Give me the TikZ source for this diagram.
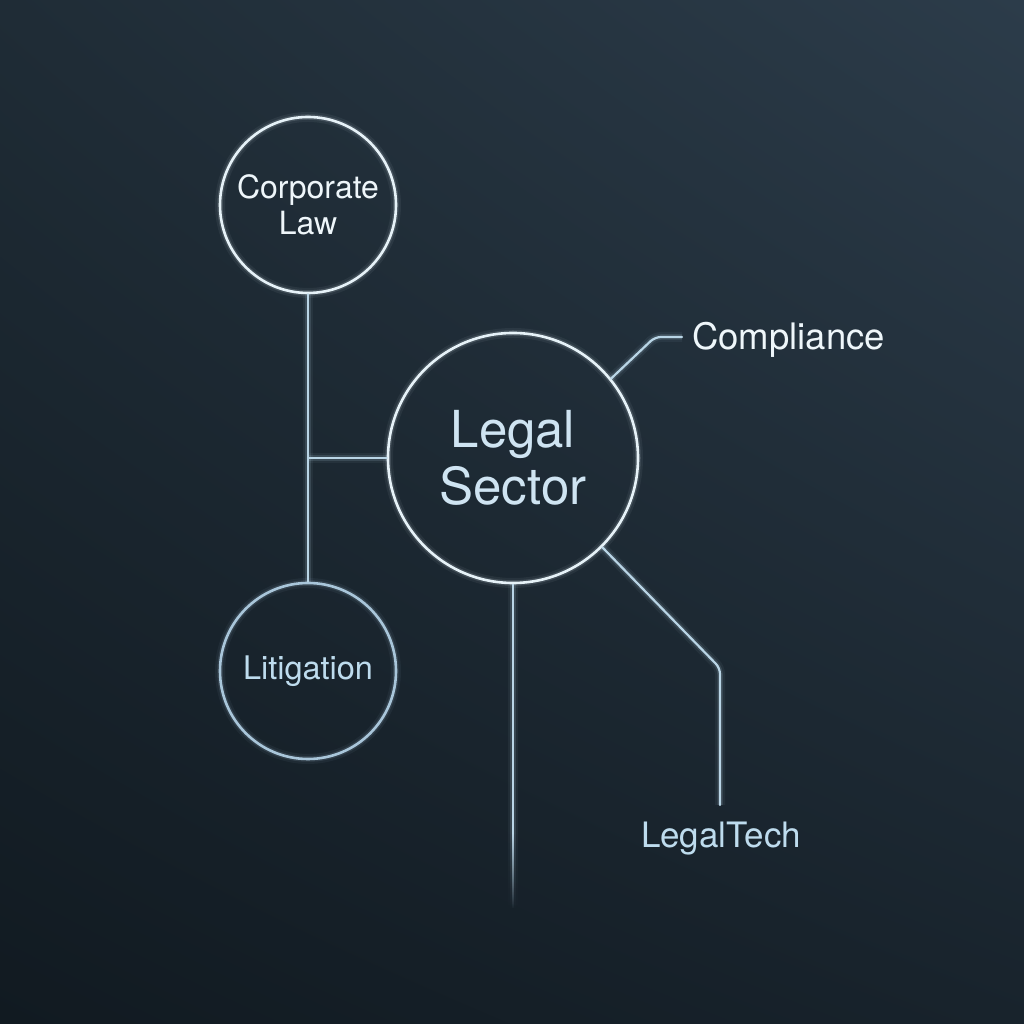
\documentclass[tikz,border=0pt]{standalone}
\usepackage{fontspec}
\setmainfont{TeX Gyre Heros}
\usetikzlibrary{positioning,fadings,shadings}

\definecolor{bgdark}{HTML}{111A21}
\definecolor{bgmidl}{HTML}{1F2C36}
\definecolor{bgmidr}{HTML}{18232C}
\definecolor{bglight}{HTML}{2C3C4A}
\definecolor{ringwhite}{HTML}{E6F2F8}
\definecolor{ringblue}{HTML}{A9C6DA}
\definecolor{wireblue}{HTML}{B9D5E6}
\definecolor{textwhite}{HTML}{EEF6FA}
\definecolor{textblue}{HTML}{BEDCEE}
\definecolor{hubtext}{HTML}{CFE4F2}

\tikzfading[name=tailfade, top color=transparent!0, bottom color=transparent!100]

\tikzset{
  glow/.style={preaction={draw=#1, line width=10pt, opacity=0.06},
               preaction={draw=#1, line width=5.5pt, opacity=0.14}},
  ring/.style={circle, draw=#1, line width=2.6pt, inner sep=0pt,
               minimum size=176pt, align=center, glow=#1},
  hub/.style={ring=ringwhite, minimum size=250pt, text=hubtext,
              font=\fontsize{51}{57}\selectfont},
  wire/.style={draw=wireblue, line width=2.2pt, line cap=round,
               rounded corners=6pt, glow=wireblue},
  tag/.style={inner sep=0pt, font=\fontsize{36.5}{40}\selectfont}
}

\begin{document}
\begin{tikzpicture}[x=1pt,y=1pt]
  % background
  \shade[lower left=bgdark, upper right=bglight, upper left=bgmidl, lower right=bgmidr]
    (0,0) rectangle (1024,1024);
  \useasboundingbox (0,0) rectangle (1024,1024);

  \node[hub] (sector) at (513,566) {Legal\\Sector};
  \node[ring=ringwhite, text=textwhite, font=\fontsize{32}{36}\selectfont]
    (corp) at (308,819) {Corporate\\Law};
  \node[ring=ringblue, text=textblue, font=\fontsize{32.5}{36}\selectfont]
    (litig) at (308,353) {Litigation};

  \node[tag, text=textwhite, anchor=west] (compl) at (692,684) {Compliance};
  \node[tag, text=textblue, font=\fontsize{35}{40}\selectfont] (ltech) at (721,185) {LegalTech};

  \coordinate (jn) at (corp.south |- sector.west);
  \coordinate (cbend) at (655,687);
  \coordinate (tbend) at (720,356);
  \coordinate (tend) at (720,219);
  \coordinate (tail) at (513,190);
  \coordinate (tailend) at (513,116);

  % spine and branches
  \path[wire] (corp.south) -- (litig.north);
  \path[wire] (jn) -- (sector.west);
  \path[wire] (sector.39) -- (cbend) -- (682,687);
  \path[wire] (sector.-45) -- (tbend) -- (tend);
  \path[wire, line cap=butt] (sector.south) -- (tail);
  % fading tail
  \foreach \w/\o in {10/0.06, 5.5/0.14, 2.2/1}
    \path[draw=wireblue, line width=\w pt, opacity=\o, path fading=tailfade] (tail) -- (tailend);
\end{tikzpicture}
\end{document}
